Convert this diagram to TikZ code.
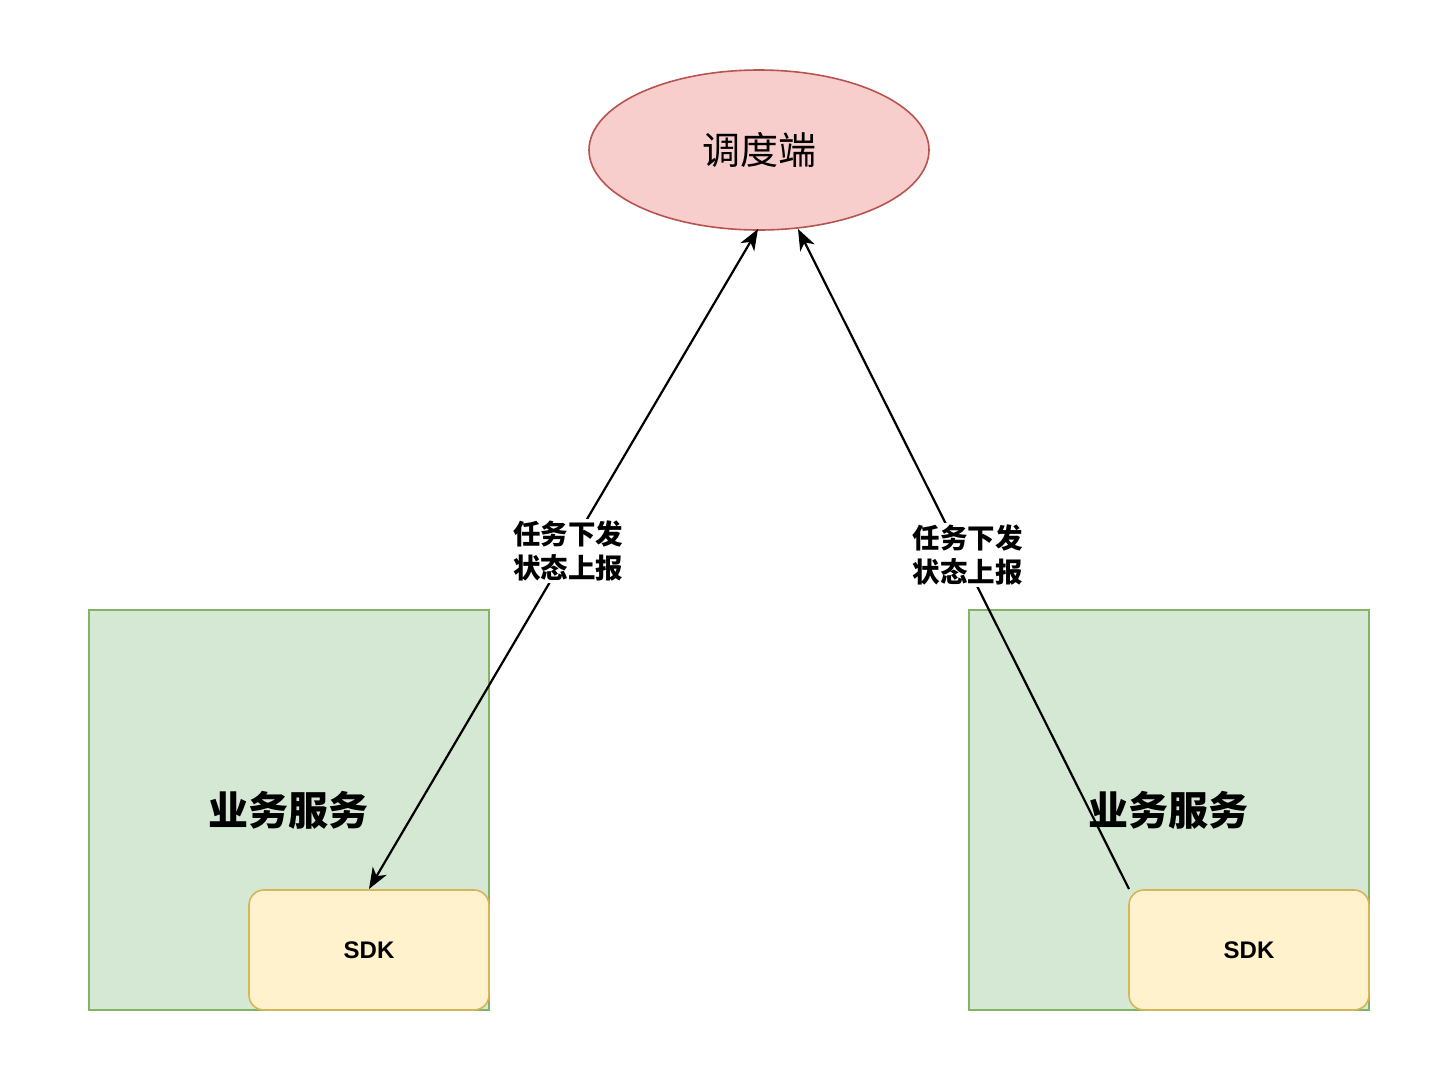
\documentclass[tikz,border=0pt]{standalone}
\usepackage{fontspec}
\setmainfont{Liberation Sans}
\newfontfamily\cjk{Noto Sans CJK SC}
\usetikzlibrary{shapes.geometric,arrows.meta}
\definecolor{redfill}{HTML}{F8CECC}
\definecolor{redline}{HTML}{B85450}
\definecolor{greenfill}{HTML}{D5E8D4}
\definecolor{greenline}{HTML}{82B366}
\definecolor{yellowfill}{HTML}{FFF2CC}
\definecolor{yellowline}{HTML}{D6B656}
\tikzset{
  svcbox/.style={draw=greenline, fill=greenfill, line width=1.6pt, minimum width=400pt, minimum height=400pt, inner sep=0pt},
  sdkbox/.style={draw=yellowline, fill=yellowfill, line width=1.6pt, rounded corners=15pt, minimum width=240pt, minimum height=120pt, inner sep=0pt, font=\bfseries\fontsize{24}{28}\selectfont},
  hub/.style={ellipse, draw=redline, fill=redfill, line width=1.6pt, minimum width=340pt, minimum height=160pt, inner sep=0pt},
  conn/.style={line width=2.2pt, draw=black},
  lbl/.style={fill=white, inner sep=2pt, align=center, font=\cjk\bfseries\fontsize{27.5}{34}\selectfont},
}
\begin{document}
\begin{tikzpicture}[x=1pt, y=-1pt]
\useasboundingbox[fill=white] (0,0) rectangle (1452,1072);
\node[hub] (hub) at (759,150) {\cjk\fontsize{38}{42}\selectfont 调度端};
\node[svcbox] (svcL) at (289,810) {};
\node[svcbox] (svcR) at (1169,810) {};
\node[font=\cjk\bfseries\fontsize{40}{46}\selectfont] (tL) at (288,810) {业务服务};
\node[font=\cjk\bfseries\fontsize{40}{46}\selectfont] (tR) at (1168,810) {业务服务};
\node[sdkbox] (sdkL) at (369,950) {SDK};
\node[sdkbox] (sdkR) at (1249,950) {SDK};
\coordinate (hubL) at (758,229);
\coordinate (hubR) at (798,229);
\coordinate (sdkLtop) at (369,889);
\coordinate (sdkRcorner) at (1129,889);
\draw[conn, arrows={Stealth[length=21pt 0,width=16pt 0,inset=6pt 0]-Stealth[length=21pt 0,width=16pt 0,inset=6pt 0]}] (sdkLtop) -- (hubL) node[lbl, pos=0.512] (lL) {任务下发\\状态上报};
\draw[conn, arrows={-Stealth[length=21pt 0,width=16pt 0,inset=6pt 0]}] (sdkRcorner) -- (hubR) node[lbl, pos=0.506, xshift=6pt] (lR) {任务下发\\状态上报};
\end{tikzpicture}
\end{document}
